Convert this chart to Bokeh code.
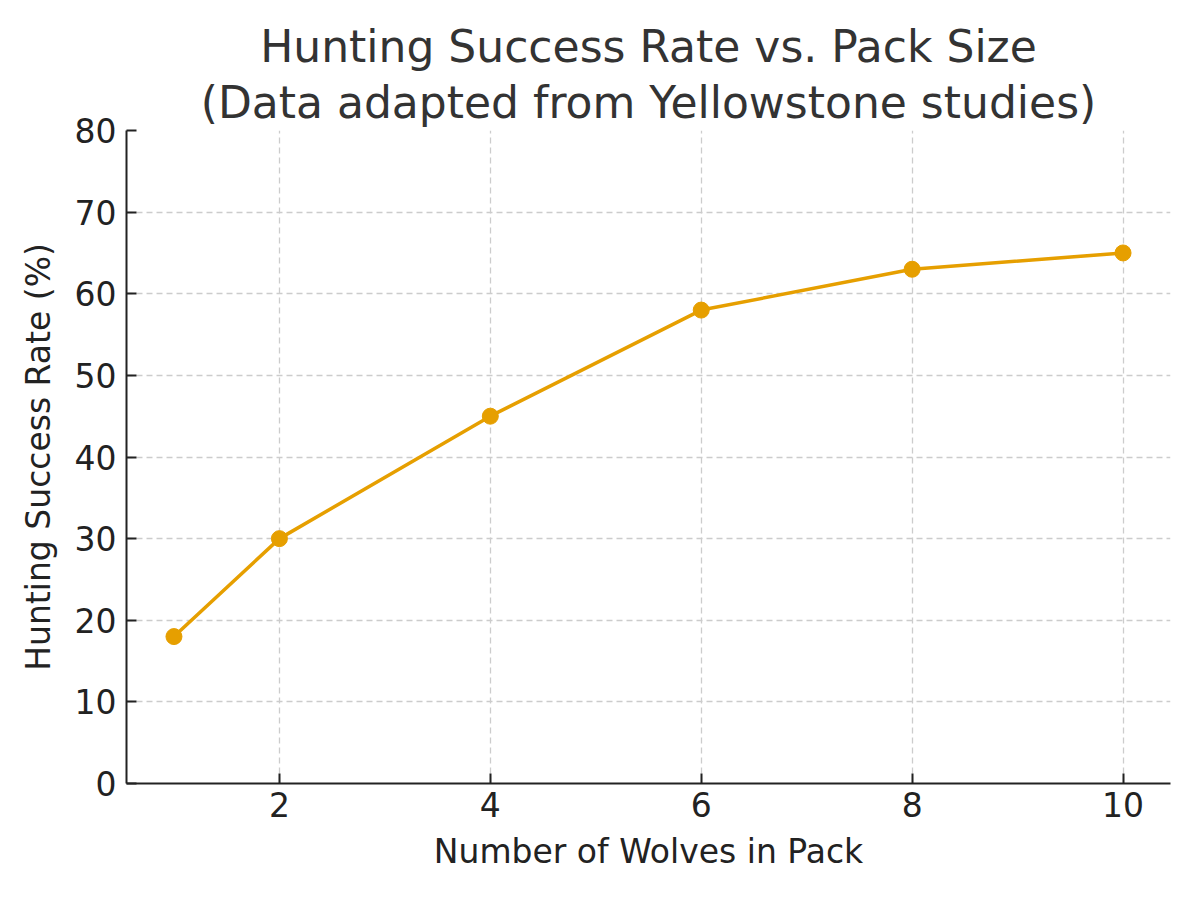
from bokeh.plotting import figure
from bokeh.models import Range1d, FixedTicker, Title
from bokeh.embed import file_html
from bokeh.resources import INLINE

pack_size = [1, 2, 4, 6, 8, 10]
success_rate = [18, 30, 45, 58, 63, 65]
x_ticks = [2, 4, 6, 8, 10]
y_ticks = [0, 10, 20, 30, 40, 50, 60, 70, 80]

FONT = "DejaVu Sans"
ORANGE = "#E69F00"

p = figure(width=1200, height=900, output_backend="svg", toolbar_location=None,
           x_range=Range1d(0.55, 10.45), y_range=Range1d(0, 80),
           min_border_left=126, min_border_right=30, min_border_bottom=117, min_border_top=130)

p.add_layout(Title(text="(Data adapted from Yellowstone studies)", align="center",
                   text_font=FONT, text_font_size="44px", text_font_style="normal",
                   text_color="#333333", standoff=6, offset=0), "above")
p.add_layout(Title(text="Hunting Success Rate vs. Pack Size", align="center",
                   text_font=FONT, text_font_size="44px", text_font_style="normal",
                   text_color="#333333", standoff=0, offset=0), "above")

p.outline_line_color = None
p.background_fill_color = "white"
p.border_fill_color = "white"

for ax in (p.xaxis[0], p.yaxis[0]):
    ax.axis_line_color = "#222222"
    ax.axis_line_width = 2
    ax.major_tick_line_color = "#222222"
    ax.major_tick_line_width = 2
    ax.major_tick_in = 10
    ax.major_tick_out = 0
    ax.minor_tick_line_color = None
    ax.major_label_text_font = FONT
    ax.major_label_text_font_size = "33px"
    ax.major_label_text_color = "#222222"
    ax.axis_label_text_font = FONT
    ax.axis_label_text_font_size = "33px"
    ax.axis_label_text_font_style = "normal"
    ax.axis_label_text_color = "#222222"

p.xaxis.ticker = FixedTicker(ticks=x_ticks)
p.yaxis.ticker = FixedTicker(ticks=y_ticks)
p.xaxis.axis_label = "Number of Wolves in Pack"
p.yaxis.axis_label = "Hunting Success Rate (%)"
p.xaxis.major_label_standoff = 8
p.yaxis.major_label_standoff = 10
p.xaxis.axis_label_standoff = 12
p.yaxis.axis_label_standoff = 14

for g in (p.xgrid[0], p.ygrid[0]):
    g.grid_line_color = "#cccccc"
    g.grid_line_dash = "6 4"
    g.grid_line_width = 1.3

p.line(pack_size, success_rate, line_color=ORANGE, line_width=3.5)
p.scatter(pack_size, success_rate, size=16, fill_color=ORANGE, line_color=ORANGE)

open("out.html", "w").write(file_html(p, INLINE))
